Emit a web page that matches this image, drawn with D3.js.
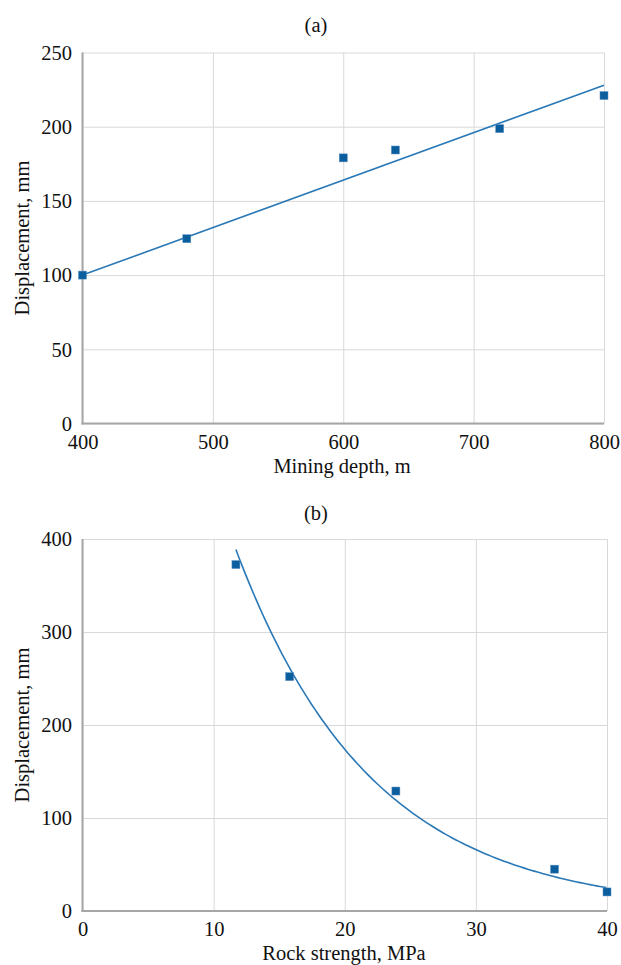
<!DOCTYPE html>
<html>
<head>
<meta charset="utf-8">
<script src="https://cdn.jsdelivr.net/npm/d3@7"></script>
<style>
    body { margin: 0; background: #fff; }
    text { font-family: "Liberation Serif", "Times New Roman", serif; fill: #111; }
</style>
</head>
<body>
<div id="chart"></div>
<script>
"use strict";

// panel (a): displacement vs mining depth
const depth = [400, 480, 600, 640, 720, 800];
const dispA = [100, 124.5, 179, 184.3, 198.7, 221];
const trendA = [[400, 100], [800, 228]];   // linear trend as drawn
const xTicksA = [400, 500, 600, 700, 800];
const yTicksA = [0, 50, 100, 150, 200, 250];

// panel (b): displacement vs rock strength
const strength = [11.7, 15.8, 23.9, 36, 40];
const dispB = [372.5, 252, 129, 45, 20.5];
const xTicksB = [0, 10, 20, 30, 40];
const yTicksB = [0, 100, 200, 300, 400];

const msm = { width: 621, height: 965, left: 82.5 }
const markColor = "#0b5e9e";
const lineColor = "#2a78b6";
const gridColor = "#d9d9d9";
const axisColor = "#a6a6a6";

let svgContainer = d3.select("#chart")
    .append("svg")
    .attr("width", msm.width)
    .attr("height", msm.height);

svgContainer.append("rect")
    .attr("width", msm.width)
    .attr("height", msm.height)
    .attr("fill", "#fff");

// exponential least squares, like a spreadsheet trendline
function expFit(xs, ys) {
    let ly = ys.map(v => Math.log(v));
    let mx = d3.mean(xs), my = d3.mean(ly);
    let sxy = d3.sum(xs, (x, i) => (x - mx) * (ly[i] - my));
    let sxx = d3.sum(xs, x => (x - mx) * (x - mx));
    let b = sxy / sxx;
    let a = Math.exp(my - b * mx);
    return x => a * Math.exp(b * x);
}

function drawPanel(cfg) {
    let g = svgContainer.append("g");

    let xScale = d3.scaleLinear()
        .domain(cfg.xDomain)
        .range([msm.left, cfg.right]);
    let yScale = d3.scaleLinear()
        .domain(cfg.yDomain)
        .range([cfg.bottom, cfg.top]);

    let w = cfg.right - msm.left;
    let h = cfg.bottom - cfg.top;

    // vertical grid + x tick labels
    let xAxis = d3.axisBottom(xScale)
        .tickValues(cfg.xTicks)
        .tickSize(-h)
        .tickFormat(d3.format("d"));
    let xg = g.append("g")
        .attr("transform", "translate(0," + cfg.bottom + ")")
        .call(xAxis);
    xg.select(".domain").remove();
    xg.selectAll("line").attr("stroke", gridColor).attr("stroke-width", 1);
    xg.selectAll("text")
        .attr("y", cfg.xLabelY - cfg.bottom)
        .attr("dy", 0)
        .style("font-size", "20.5px")
        .style("font-family", "Liberation Serif")
        .attr("fill", "#111");

    // horizontal grid + y tick labels
    let yAxis = d3.axisLeft(yScale)
        .tickValues(cfg.yTicks)
        .tickSize(-w)
        .tickPadding(10.5)
        .tickFormat(d3.format("d"));
    let yg = g.append("g")
        .attr("transform", "translate(" + msm.left + ",0)")
        .call(yAxis);
    yg.select(".domain").remove();
    yg.selectAll("line").attr("stroke", gridColor).attr("stroke-width", 1);
    yg.selectAll("text")
        .attr("dy", "0.33em")
        .style("font-size", "20.5px")
        .style("font-family", "Liberation Serif")
        .attr("fill", "#111");

    // left and bottom axis lines
    g.append("line")
        .attr("x1", msm.left).attr("x2", msm.left)
        .attr("y1", cfg.top).attr("y2", cfg.bottom + 1)
        .attr("stroke", axisColor).attr("stroke-width", 2);
    g.append("line")
        .attr("x1", msm.left - 1).attr("x2", cfg.right)
        .attr("y1", cfg.bottom).attr("y2", cfg.bottom)
        .attr("stroke", axisColor).attr("stroke-width", 2);

    // trend line
    g.append("path")
        .datum(cfg.trend)
        .attr("fill", "none")
        .attr("stroke", lineColor)
        .attr("stroke-width", 1.6)
        .attr("d", d3.line()
            .x(d => xScale(d[0]))
            .y(d => yScale(d[1])));

    // square markers
    let pts = cfg.xs.map((x, i) => [x, cfg.ys[i]]);
    g.selectAll(".pt")
        .data(pts)
        .enter()
        .append("rect")
        .attr("x", d => xScale(d[0]) - 4)
        .attr("y", d => yScale(d[1]) - 4)
        .attr("width", 8)
        .attr("height", 8)
        .attr("fill", markColor)
        .attr("stroke", "#5b8fc0")
        .attr("stroke-width", 0.5);

    // labels
    g.append("text")
        .attr("x", cfg.titleX)
        .attr("y", cfg.titleY)
        .attr("text-anchor", "middle")
        .style("font-size", "20.5px")
        .text(cfg.title);

    g.append("text")
        .attr("x", cfg.xTitleX)
        .attr("y", cfg.xTitleY)
        .attr("text-anchor", "middle")
        .style("font-size", "20.5px")
        .text(cfg.xTitle);

    g.append("text")
        .attr("transform", "translate(29," + ((cfg.top + cfg.bottom) / 2) + ") rotate(-90)")
        .attr("text-anchor", "middle")
        .style("font-size", "20.5px")
        .text("Displacement, mm");
}

drawPanel({
    xs: depth, ys: dispA,
    xDomain: [400, 800], yDomain: [0, 250],
    xTicks: xTicksA, yTicks: yTicksA,
    right: 604, top: 52.5, bottom: 423.5,
    xLabelY: 449,
    trend: trendA,
    title: "(a)", titleX: 316, titleY: 32,
    xTitle: "Mining depth, m", xTitleX: 342, xTitleY: 473
});

let fitB = expFit(strength, dispB);
let trendB = d3.range(d3.min(strength), 40.001, 0.25).map(x => [x, fitB(x)]);

drawPanel({
    xs: strength, ys: dispB,
    xDomain: [0, 40], yDomain: [0, 400],
    xTicks: xTicksB, yTicks: yTicksB,
    right: 607, top: 539, bottom: 911,
    xLabelY: 936,
    trend: trendB,
    title: "(b)", titleX: 316, titleY: 520,
    xTitle: "Rock strength, MPa", xTitleX: 344, xTitleY: 960
});
</script>
</body>
</html>
